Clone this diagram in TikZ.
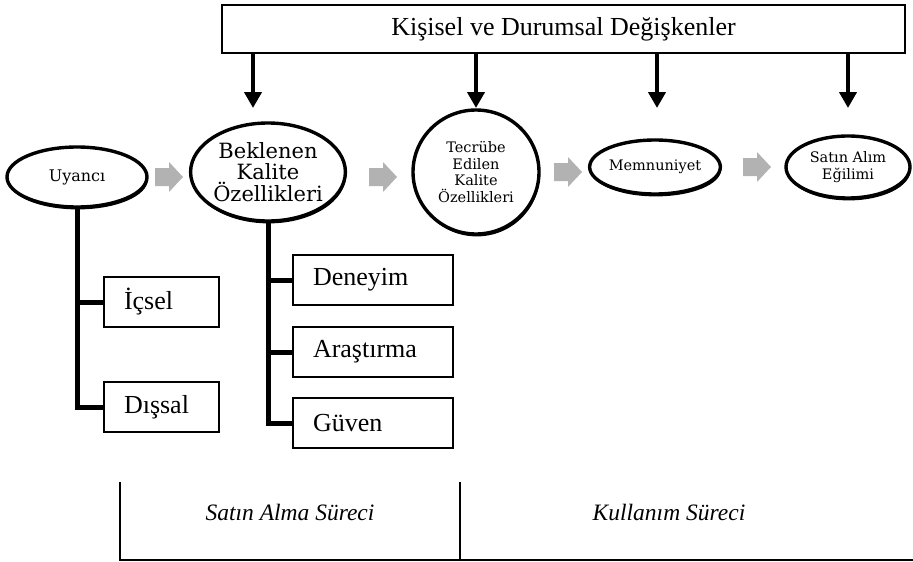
\documentclass[tikz,border=0pt]{standalone}
\usepackage{fontspec}
\setmainfont{Liberation Serif}
\newfontfamily\ellfont{DejaVu Serif}
\usetikzlibrary{shapes.geometric,arrows.meta}
\tikzset{
  ell/.style={ellipse, draw=black, line width=3.4pt, fill=white, inner sep=0pt, align=center,
    preaction={fill=black, transform canvas={xshift=0.8pt,yshift=-2.4pt}}},
  smalltxt/.style={font=\ellfont\fontsize{14.5}{16.5}\selectfont},
  bigtxt/.style={font=\ellfont\fontsize{21}{21.5}\selectfont},
  catbox/.style={draw=black, line width=1.4pt, inner xsep=20pt, inner ysep=0pt, minimum height=50pt,
    text width=#1, align=left, font=\fontsize{26}{28}\selectfont},
  grayarr/.style={fill=black!30, draw=none},
  downarr/.style={line width=4.5pt, -{Triangle[width=17pt,length=16pt]}},
  tree/.style={line width=5pt},
  frameline/.style={line width=2pt}
}
\begin{document}
\begin{tikzpicture}[x=1pt,y=-1pt]
\useasboundingbox (0,0) rectangle (913,562);
% top box
\node[draw=black, line width=1.4pt, minimum width=683pt, minimum height=48pt, inner sep=0pt,
  font=\fontsize{26}{28}\selectfont] (top) at (563.5,29) {Kişisel ve Durumsal Değişkenler};
% ellipses
\node[ell, font=\ellfont\fontsize{16}{18}\selectfont, minimum width=140pt, minimum height=60pt] (uy) at (77,177) {Uyancı};
\node[ell, bigtxt, minimum width=150pt, minimum height=98pt] (bek) at (268,172) {Beklenen\\Kalite\\Özellikleri};
\node[ell, smalltxt, minimum width=126pt, minimum height=124pt] (tec) at (476,172) {Tecrübe\\Edilen\\Kalite\\Özellikleri};
\node[ell, smalltxt, minimum width=120pt, minimum height=54pt] (mem) at (655,167) {Memnuniyet};
\node[ell, smalltxt, minimum width=124pt, minimum height=62pt] (sat) at (848,167) {Satın Alım\\Eğilimi};
% gray block arrows
\coordinate (g1) at (169,177);
\coordinate (g2) at (383,177);
\coordinate (g3) at (568,172);
\coordinate (g4) at (757,167);
\foreach \g in {g1,g2,g3,g4}{
  \fill[grayarr, shift={(\g)}] (-14,-9) -- (0,-9) -- (0,-15) -- (14,0) -- (0,15) -- (0,9) -- (-14,9) -- cycle;
}
% down arrows
\coordinate (a1) at (253,108);
\coordinate (a2) at (476,108);
\coordinate (a3) at (657,108);
\coordinate (a4) at (848,108);
\draw[downarr] (top.south -| a1) -- (a1);
\draw[downarr] (top.south -| a2) -- (a2);
\draw[downarr] (top.south -| a3) -- (a3);
\draw[downarr] (top.south -| a4) -- (a4);
% category boxes
\node[catbox=75pt] (ic) at (161.5,302) {İçsel};
\node[catbox=75pt] (dis) at (161.5,407) {Dışsal};
\node[catbox=120pt] (den) at (373,280) {Deneyim};
\node[catbox=120pt] (ara) at (373,352) {Araştırma};
\node[catbox=120pt] (guv) at (373,423) {Güven};
% tree lines
\draw[tree] (uy.south) |- (dis.west);
\draw[tree] (uy.south |- ic.west) -- (ic.west);
\draw[tree] (bek.south) |- (guv.west);
\draw[tree] (bek.south |- den.west) -- (den.west);
\draw[tree] (bek.south |- ara.west) -- (ara.west);
% bottom frame
\draw[frameline] (120,482) -- (120,560);
\draw[frameline] (460,482) -- (460,560);
\draw[line width=2.6pt] (119,560) -- (913,560);
\node[font=\itshape\fontsize{23.5}{25}\selectfont] (sp) at (290,512) {Satın Alma Süreci};
\node[font=\itshape\fontsize{23.5}{25}\selectfont] (kp) at (669,512) {Kullanım Süreci};
\end{tikzpicture}
\end{document}
